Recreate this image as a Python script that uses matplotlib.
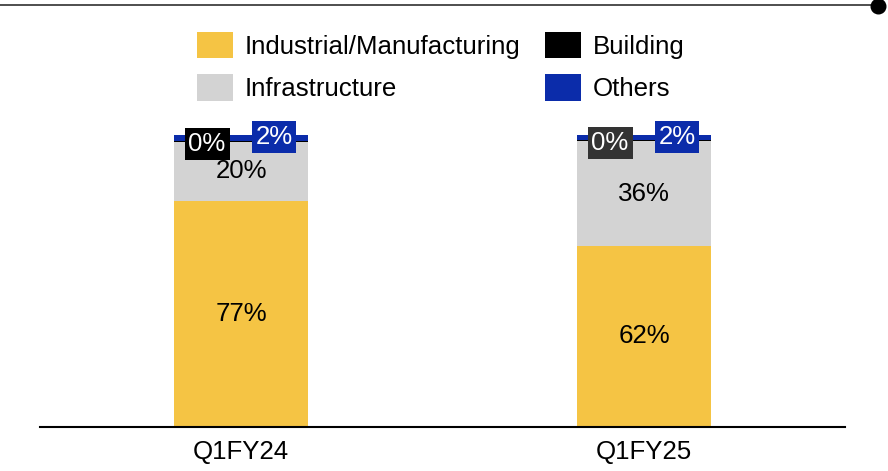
import matplotlib
matplotlib.use("Agg")
import matplotlib.pyplot as plt
from matplotlib.patches import Patch
from matplotlib.lines import Line2D
import numpy as np

plt.rcParams['font.family'] = ['Liberation Sans', 'DejaVu Sans']

categories = ["Q1FY24", "Q1FY25"]
industrial = [77.4, 62.0]
infrastructure = [20.2, 35.9]
building = [0.4, 0.3]
others = [2.0, 1.8]
series_names = ["Industrial/Manufacturing", "Infrastructure", "Building", "Others"]
colors = ["#F5C444", "#D3D3D3", "#000000", "#0B2CAA"]

W, H = 888, 471
fig = plt.figure(figsize=(W / 100, H / 100), dpi=100)

ax_l, ax_r, ax_b, ax_t = 40, 845, 427, 20
ax = fig.add_axes([ax_l / W, 1 - ax_b / H, (ax_r - ax_l) / W, (ax_b - ax_t) / H])

x = np.arange(len(categories))
unit = 403.0
bw = 134 / unit
ax.set_xlim(-(241 - ax_l) / unit, 1 + (ax_r - 644) / unit)
px100 = 292.0
ax.set_ylim(0, 100 * (ax_b - ax_t) / px100)

series = [industrial, infrastructure, building, others]
bottom = np.zeros(len(categories))
for vals, c in zip(series, colors):
    ax.bar(x, vals, bw, bottom=bottom, color=c, edgecolor='none')
    bottom = bottom + np.array(vals)

fs = 18.6
for i in range(len(categories)):
    ax.text(x[i], industrial[i] / 2, f"{round(industrial[i])}%", ha='center', va='center', fontsize=fs, color='black')
    ax.text(x[i], industrial[i] + infrastructure[i] / 2, f"{round(infrastructure[i])}%", ha='center', va='center', fontsize=fs, color='black')
    yb = industrial[i] + infrastructure[i] + building[i] / 2 - 0.8
    ax.text(x[i] - 34 / unit, yb, f"{round(building[i])}%", ha='center', va='center', fontsize=fs,
            color='white', bbox=dict(boxstyle='square,pad=0.15', fc=['#000000', '#333333'][i], ec='none'), clip_on=False)
    yo = industrial[i] + infrastructure[i] + building[i] + others[i] / 2 + 0.2
    ax.text(x[i] + 33 / unit, yo, f"{round(others[i])}%", ha='center', va='center', fontsize=fs,
            color='white', bbox=dict(boxstyle='square,pad=0.15', fc=colors[3], ec='none'), clip_on=False)

ax.set_xticks(x)
ax.set_xticklabels(categories, fontsize=fs)
ax.tick_params(axis='x', length=0, pad=9)
ax.set_yticks([])
for s in ['top', 'left', 'right']:
    ax.spines[s].set_visible(False)
ax.spines['bottom'].set_linewidth(1.5)
ax.spines['bottom'].set_color('black')

handles = [Patch(facecolor=c, edgecolor='none') for c in colors]
fig.legend(handles, series_names, ncol=2, loc='upper left',
           bbox_to_anchor=(197 / W, 1 - 32 / H), frameon=False, fontsize=fs,
           handlelength=1.4, handleheight=1.2, handletextpad=0.45,
           columnspacing=0.95, labelspacing=0.6, borderpad=0, borderaxespad=0)

fig.add_artist(Line2D([0, 875 / W], [1 - 5 / H, 1 - 5 / H], color='#404040', lw=1.3, transform=fig.transFigure))
fig.add_artist(Line2D([878 / W], [1 - 6 / H], marker='o', markersize=10.5, color='black', transform=fig.transFigure, clip_on=False))

fig.savefig("out.png", dpi=100)
